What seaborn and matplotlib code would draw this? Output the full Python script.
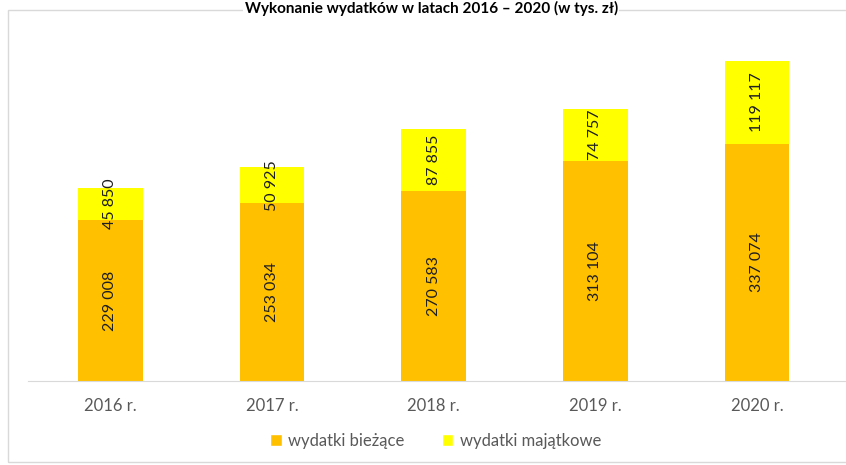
import matplotlib
matplotlib.use('Agg')
import matplotlib.pyplot as plt
import pandas as pd
import seaborn as sns
from matplotlib.patches import Patch, Rectangle

# Data (w tys. zł)
years = ['2016 r.', '2017 r.', '2018 r.', '2019 r.', '2020 r.']
biezace = [229008, 253034, 270583, 313104, 337074]
majatkowe = [45850, 50925, 87855, 74757, 119117]

title = 'Wykonanie wydatków w latach 2016 – 2020 (w tys. zł)'
orange = '#FFC000'
yellow = '#FFFF00'

df = pd.DataFrame({'rok': years, 'biezace': biezace, 'majatkowe': majatkowe})
df['razem'] = df['biezace'] + df['majatkowe']

sns.set_style('white')
plt.rcParams['font.family'] = ['Lato', 'DejaVu Sans']

fig = plt.figure(figsize=(8.46, 4.65), dpi=100)
ax = fig.add_axes([0.033, 0.181, 0.967, 0.776])

# stacked bars: total drawn first, current spending on top of it
sns.barplot(data=df, x='rok', y='razem', color=yellow, width=0.4, ax=ax,
            saturation=1, edgecolor='none')
sns.barplot(data=df, x='rok', y='biezace', color=orange, width=0.4, ax=ax,
            saturation=1, edgecolor='none')

def fmt(v):
    return f'{v:,}'.replace(',', ' ')

for i, row in df.iterrows():
    ax.text(i, row['biezace'] / 2, fmt(row['biezace']), rotation=90,
            ha='center', va='center', fontsize=11.5, color='#1f1f1f')
    ax.text(i, row['biezace'] + row['majatkowe'] / 2, fmt(row['majatkowe']),
            rotation=90, ha='center', va='center', fontsize=11.5, color='#1f1f1f')

ax.set_xlim(-0.51, 4.55)
ax.set_ylim(0, 514000)
ax.set_xlabel('')
ax.set_ylabel('')
ax.set_yticks([])
for s in ['top', 'left', 'right']:
    ax.spines[s].set_visible(False)
ax.spines['bottom'].set_color('#d9d9d9')
ax.tick_params(axis='x', length=0, pad=12, labelsize=12, labelcolor='#595959')

handles = [Patch(facecolor=orange, label='wydatki bieżące'),
           Patch(facecolor=yellow, label='wydatki majątkowe')]
fig.legend(handles=handles, loc='center', bbox_to_anchor=(0.515, 0.052), ncol=2,
           frameon=False, fontsize=12, handlelength=0.7, handleheight=0.7,
           columnspacing=2.2, handletextpad=0.4, labelcolor='#595959')

# outer chart border
fig.patches.append(Rectangle((0.009, 0.006), 1.2, 0.972, transform=fig.transFigure,
                             fill=False, edgecolor='#d9d9d9', linewidth=1.0))

fig.text(0.51, 0.999, title, ha='center', va='top', fontsize=11,
         fontweight='bold', color='black', zorder=5,
         bbox=dict(facecolor='white', edgecolor='none', pad=1))

fig.savefig('out.png', dpi=100)
